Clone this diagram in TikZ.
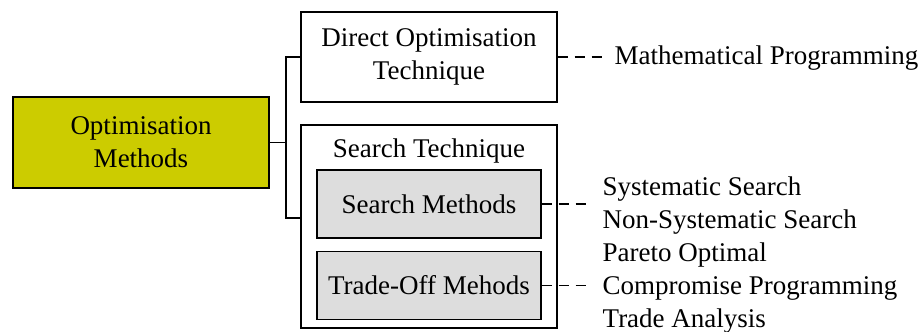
\documentclass[tikz,border=0pt]{standalone}
\usepackage{fontspec}
\setmainfont{Liberation Serif}
\usetikzlibrary{positioning}
\definecolor{olive}{HTML}{CCCC00}
\definecolor{lightgrey}{HTML}{DDDDDD}
\tikzstyle{mainbox} = [rectangle, minimum width=128pt, minimum height=45.5pt, text centered, align=center, draw=black, fill=olive]
\tikzstyle{process} = [rectangle, minimum width=128pt, minimum height=45pt, text centered, align=center, draw=black, fill=white]
\tikzstyle{outerbox} = [rectangle, minimum width=128pt, minimum height=101.5pt, draw=black, fill=white]
\tikzstyle{subbox} = [rectangle, minimum width=112pt, minimum height=34pt, text centered, draw=black, fill=lightgrey]
\tikzstyle{listing} = [align=left, anchor=west, inner sep=5pt]
\tikzstyle{line} = [line width=0.7pt]
\tikzstyle{dashline} = [line width=0.7pt, dash pattern=on 5pt off 3.5pt]

\begin{document}
\begin{tikzpicture}[x=0.5pt, y=-0.5pt, font=\fontsize{13.5}{16.5}\selectfont, line width=0.7pt]
    \useasboundingbox (0,0) rectangle (922,332);

    % Nodes
    \node (methods) [mainbox] at (141,142.5) {Optimisation\\Methods};
    \node (direct) [process] at (429,57) {Direct Optimisation\\Technique};
    \node (search) [outerbox] at (429,226.5) {};
    \node (searchTitle) at (429,151) {Search Technique};
    \node (searchMethods) [subbox] at (429,204) {Search Methods};
    \node (tradeOff) [subbox, below=6pt of searchMethods] {Trade-Off Mehods};

    \node (mathProg) [listing, inner sep=4pt] at (606,58) {Mathematical Programming};
    \node (searchList) [listing] at (592,206) {Systematic Search\\Non-Systematic Search};
    \node (tradeList) [listing] at (592,288) {Pareto Optimal\\Compromise Programming\\Trade Analysis};

    % Connectors
    \coordinate (joint) at (286,218);
    \draw [line] (methods.east) -- (methods.east -| joint);
    \draw [line] (direct.west) -| (joint) -- (joint -| search.west);
    \draw [dashline] (direct.east) -- (direct.east -| mathProg.west);
    \draw [dashline] (searchMethods.east) -- (searchMethods.east -| searchList.west);
    \draw [dashline] (tradeOff.east) -- (tradeOff.east -| tradeList.west);
\end{tikzpicture}
\end{document}
